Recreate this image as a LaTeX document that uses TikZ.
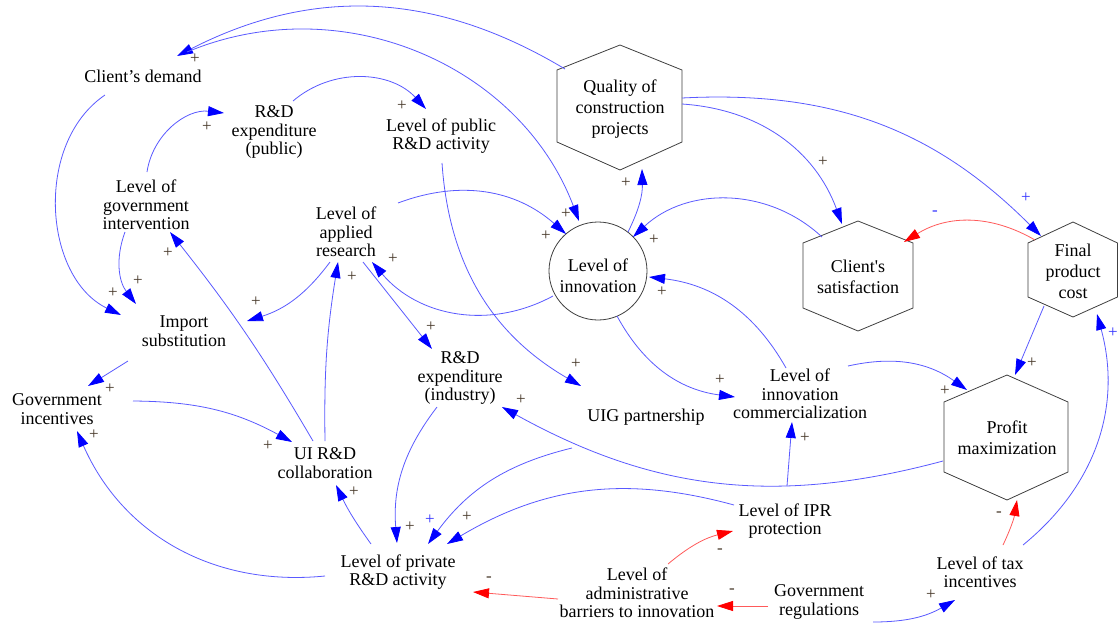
\documentclass[tikz,border=0pt]{standalone}
\usepackage{fontspec}
\setmainfont{Liberation Serif}
\usetikzlibrary{arrows.meta}
\definecolor{linkblue}{RGB}{90,90,255}
\definecolor{tipblue}{RGB}{0,0,255}
\definecolor{linkred}{RGB}{255,90,90}
\definecolor{tipred}{RGB}{255,0,0}
\definecolor{polcol}{RGB}{70,55,40}
\definecolor{polblue}{RGB}{50,50,255}
\definecolor{shapeline}{RGB}{64,64,64}
\begin{document}
\begin{tikzpicture}[x=1pt,y=-1pt,
  var/.style={align=center,inner sep=0pt,font=\fontsize{18}{18.5}\selectfont},
  hexvar/.style={align=center,inner sep=0pt,font=\fontsize{18}{21}\selectfont},
  hexline/.style={draw=shapeline,line width=0.8pt,line join=miter},
  plink/.style={draw=linkblue,line width=0.8pt,-{Triangle[length=16pt,width=10pt,color=tipblue]}},
  nlink/.style={draw=linkred,line width=0.8pt,-{Triangle[length=16pt,width=10pt,color=tipred]}},
  pol/.style={inner sep=0pt,text=polcol,font=\fontsize{17}{17}\selectfont},
  polb/.style={pol,text=polblue},
]
\fill[white] (0,0) rectangle (1118,624);
\useasboundingbox (0,0) rectangle (1118,624);

% hexagonal variables
\draw[hexline] (620,45)--(682,70)--(682,142)--(620,170)--(557,142)--(557,70)--cycle;
\draw[hexline] (858,221)--(913,243)--(913,308)--(858,331)--(803,308)--(803,243)--cycle;
\draw[hexline] (1073,222)--(1117.5,243)--(1117.5,297)--(1073,317)--(1028,297)--(1028,243)--cycle;
\draw[hexline] (1007,375)--(1068,402)--(1068,472)--(1007,500)--(944,472)--(944,402)--cycle;

% variables
\node[var] (cd) at (143,76) {Client’s demand};
\node[var] (rdp) at (274,132) {R\&D\\expenditure\\(public)};
\node[var] (pub) at (441,136) {Level of public\\R\&D activity};
\node[hexvar] (qual) at (620,109) {Quality of\\construction\\projects};
\node[var] (gov) at (146,205) {Level of\\government\\intervention};
\node[var] (app) at (346,232) {Level of\\applied\\research};
\node[circle,draw=shapeline,line width=0.8pt,minimum size=98pt,inner sep=0pt] (inn) at (598,271) {};
\node[hexvar] (innlbl) at (598,276) {Level of\\innovation};
\node[hexvar] (sat) at (858,277) {Client\textquotesingle s\\satisfaction};
\node[hexvar] (fpc) at (1073,271) {Final\\product\\cost};
\node[var] (imp) at (184,331) {Import\\substitution};
\node[var] (ginc) at (57,409) {Government\\incentives};
\node[var] (ui) at (325,463) {UI R\&D\\collaboration};
\node[var] (rdi) at (460,378) {R\&D\\expenditure\\(industry)};
\node[var] (uig) at (646,417) {UIG partnership};
\node[var] (com) at (800,394) {Level of\\innovation\\commercialization};
\node[hexvar] (prof) at (1007,438) {Profit\\maximization};
\node[var] (ipr) at (785,521) {Level of IPR\\protection};
\node[var] (prv) at (398,572) {Level of private\\R\&D activity};
\node[var] (adm) at (637,593) {Level of\\administrative\\barriers to innovation};
\node[var] (reg) at (819,602) {Government\\regulations};
\node[var] (tax) at (980,572) {Level of tax\\incentives};

% causal links
\draw[plink] ([shift={(-55,-40)}]qual.center) to[bend right=29] ([shift={(34,-20)}]cd.center);
\draw[plink] ([shift={(44,-24)}]cd.center) to[bend left=46] ([shift={(-19,-50)}]inn.center);
\draw[plink] ([shift={(-38,19)}]cd.center) to[bend right=60] ([shift={(-63,-16)}]imp.center);
\draw[plink] ([shift={(-21,27)}]gov.center) to[bend right=29] ([shift={(-48,-27)}]imp.center);
\draw[plink] ([shift={(1,-33)}]gov.center) to[bend left=44] ([shift={(-50,-19)}]rdp.center);
\draw[plink] ([shift={(19,-31)}]rdp.center) to[bend left=44] ([shift={(-15,-27)}]pub.center);
\draw[plink] ([shift={(1,27)}]pub.center) to[bend right=28] ([shift={(-65,-31)}]uig.center);
\draw[plink] ([shift={(30,-39)}]inn.center) to[bend right=14] ([shift={(22,60)}]qual.center);
\draw[plink] ([shift={(62,-5)}]qual.center) to[bend left=33] ([shift={(-16,-53)}]sat.center);
\draw[plink] ([shift={(62,-11)}]qual.center) to[bend left=24] ([shift={(-32,-35)}]fpc.center);
\draw[plink] ([shift={(-36,-40)}]sat.center) to[bend right=43] ([shift={(35,-34)}]inn.center);
\draw[nlink] ([shift={(-38,-31)}]fpc.center) to[bend right=31] ([shift={(46,-35)}]sat.center);
\draw[plink] ([shift={(52,-29)}]app.center) to[bend left=31] ([shift={(-32,-37)}]inn.center);
\draw[plink] ([shift={(-45,25)}]inn.center) to[bend left=39] ([shift={(26,30)}]app.center);
\draw[plink] ([shift={(-16,30)}]app.center) to[bend left=18] ([shift={(63,-10)}]imp.center);
\draw[plink] ([shift={(17,30)}]app.center) -- ([shift={(-28,-29)}]rdi.center);
\draw[plink] ([shift={(19,45)}]inn.center) to[bend right=27] ([shift={(-65,3)}]com.center);
\draw[plink] ([shift={(-14,-26)}]com.center) to[bend right=27] ([shift={(51,6)}]inn.center);
\draw[plink] ([shift={(48,-28)}]com.center) to[bend left=24] ([shift={(-40,-48)}]prof.center);
\draw[plink] ([shift={(-29,35)}]fpc.center) -- ([shift={(8,-63)}]prof.center);
\draw[plink] ([shift={(43,-27)}]tax.center) to[bend right=33] ([shift={(24,43)}]fpc.center);
\draw[nlink] ([shift={(23,-27)}]tax.center) to[bend right=8] ([shift={(10,62)}]prof.center);
\draw[plink] ([shift={(54,20)}]reg.center) to[bend right=15] ([shift={(-25,28)}]tax.center);
\draw[nlink] ([shift={(-51,4)}]reg.center) -- ([shift={(80,13)}]adm.center);
\draw[nlink] ([shift={(-79,6)}]adm.center) -- ([shift={(75,20)}]prv.center);
\draw[nlink] ([shift={(31,-29)}]adm.center) to[bend left=13] ([shift={(-52,10)}]ipr.center);
\draw[plink] ([shift={(-51,-16)}]ipr.center) to[bend right=23] ([shift={(49,-28)}]prv.center);
\draw[plink] ([shift={(-74,31)}]uig.center) to[bend right=20] ([shift={(30,-28)}]prv.center);
\draw[plink] ([shift={(-23,29)}]rdi.center) to[bend right=21] ([shift={(-1,-29)}]prv.center);
\draw[plink] ([shift={(-64,23)}]prof.center) to[bend left=22] ([shift={(42,29)}]rdi.center);
\draw[plink] ([shift={(2,-35)}]ipr.center) -- ([shift={(-8,28)}]com.center);
\draw[plink] ([shift={(-27,-28)}]prv.center) to[bend left=5] ([shift={(11,22)}]ui.center);
\draw[plink] ([shift={(-73,4)}]prv.center) to[bend left=36] ([shift={(20,22)}]ginc.center);
\draw[plink] ([shift={(76,-8)}]ginc.center) to[bend left=14] ([shift={(-33,-21)}]ui.center);
\draw[plink] ([shift={(-12,-22)}]ui.center) to[bend right=4] ([shift={(24,27)}]gov.center);
\draw[plink] ([shift={(0,-22)}]ui.center) to[bend left=5] ([shift={(-8,30)}]app.center);
\draw[plink] ([shift={(-56,30)}]imp.center) -- ([shift={(31,-23)}]ginc.center);

% link polarities
\node[pol] (p1) at (195,59) {+};
\node[pol] (p2) at (566,214) {+};
\node[pol] (p3) at (113,293) {+};
\node[pol] (p4) at (138,281) {+};
\node[pol] (p5) at (207,127) {+};
\node[pol] (p6) at (402,106) {+};
\node[pol] (p7) at (576,364) {+};
\node[pol] (p8) at (626,183) {+};
\node[pol] (p9) at (823,162) {+};
\node[polb] (p10) at (1026,198) {+};
\node[pol] (p11) at (654,240) {+};
\node[polb] (p12) at (935,213) {-};
\node[pol] (p13) at (546,236) {+};
\node[pol] (p14) at (393,259) {+};
\node[pol] (p15) at (256,302) {+};
\node[pol] (p16) at (431,327) {+};
\node[pol] (p17) at (720,380) {+};
\node[pol] (p18) at (662,292) {+};
\node[pol] (p19) at (945,391) {+};
\node[pol] (p20) at (1032,363) {+};
\node[polb] (p21) at (1113,333) {+};
\node[pol] (p22) at (999,514) {-};
\node[pol] (p23) at (931,595) {+};
\node[pol] (p24) at (732,591) {-};
\node[pol] (p25) at (489,579) {-};
\node[pol] (p26) at (720,551) {-};
\node[pol] (p27) at (467,517) {+};
\node[polb] (p28) at (430,520) {+};
\node[pol] (p29) at (410,527) {+};
\node[pol] (p30) at (521,400) {+};
\node[pol] (p31) at (805,438) {+};
\node[pol] (p32) at (354,492) {+};
\node[pol] (p33) at (94,435) {+};
\node[pol] (p34) at (268,446) {+};
\node[pol] (p35) at (168,253) {+};
\node[pol] (p36) at (352,277) {+};
\node[pol] (p37) at (110,389) {+};
\end{tikzpicture}
\end{document}
